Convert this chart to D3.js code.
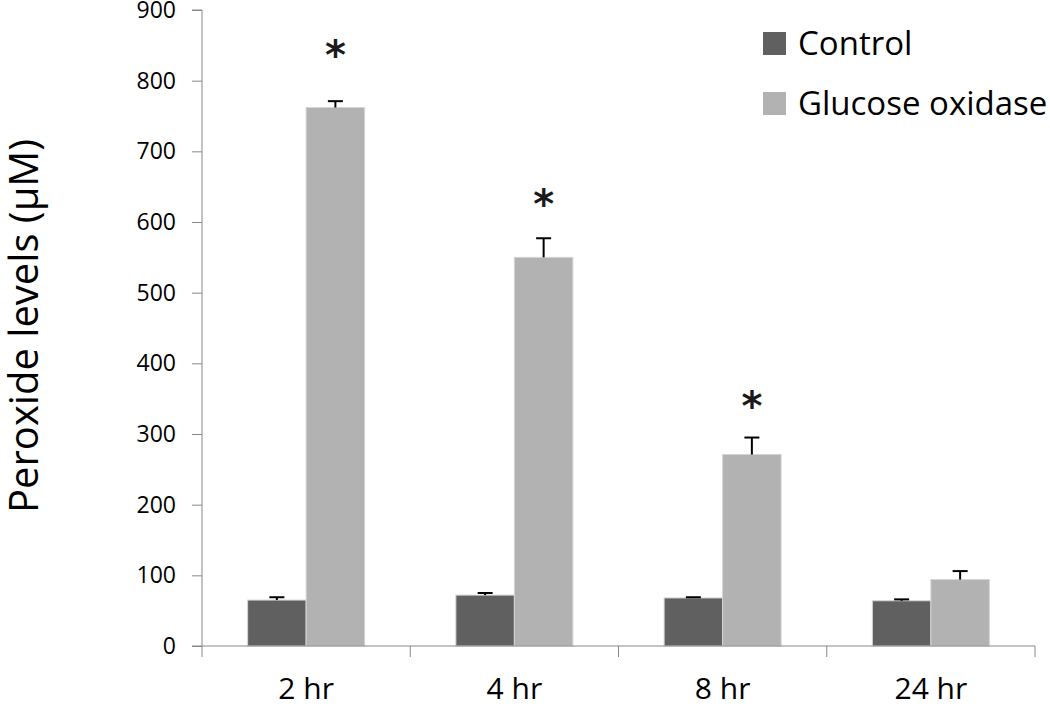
<!DOCTYPE html>
<html>
<head>
<meta charset="utf-8">
<script src="https://cdn.jsdelivr.net/npm/d3@7"></script>
<style>
  html, body { margin: 0; padding: 0; background: #fff; }
  svg { display: block; }
</style>
</head>
<body>
<svg id="chart" width="1050" height="707"></svg>
<script>
// ---- data ----
const categories = ["2 hr", "4 hr", "8 hr", "24 hr"];
const seriesNames = ["Control", "Glucose oxidase"];
const controlValues = [65, 72, 68, 64];
const controlErrors = [4, 3, 1, 2];
const glucoseValues = [762, 550, 271, 94];
const glucoseErrors = [9, 27, 24, 12];
const significance = ["*", "*", "*", ""];
const starLevels = [850, 639, 352, null];
const yTicks = [0, 100, 200, 300, 400, 500, 600, 700, 800, 900];
const yLabel = "Peroxide levels (\u00B5M)";

// ---- layout ----
const svg = d3.select("#chart");
const colors = { "Control": "#606060", "Glucose oxidase": "#b2b2b2" };
const axisColor = "#888888";
const plotLeft = 202, plotRight = 1035, plotTop = 10, plotBottom = 646;

const x0 = d3.scaleBand().domain(categories).range([plotLeft, plotRight]).padding(0);
const x1 = d3.scaleBand().domain(seriesNames).range([0, x0.bandwidth()]).paddingInner(0).paddingOuter(0.78);
const y = d3.scaleLinear().domain([0, 900]).range([plotBottom, plotTop]);

const rows = categories.map((c, i) => ({
  cat: c,
  bars: [
    { key: "Control", v: controlValues[i], e: controlErrors[i] },
    { key: "Glucose oxidase", v: glucoseValues[i], e: glucoseErrors[i] }
  ],
  star: significance[i],
  starV: starLevels[i]
}));

// bars
const g = svg.append("g");
const groups = g.selectAll("g.grp").data(rows).join("g")
  .attr("class", "grp")
  .attr("transform", d => `translate(${x0(d.cat)},0)`);

groups.selectAll("rect").data(d => d.bars).join("rect")
  .attr("x", d => x1(d.key))
  .attr("y", d => y(d.v))
  .attr("width", x1.bandwidth())
  .attr("height", d => y(0) - y(d.v))
  .attr("fill", d => colors[d.key])
  .attr("stroke", "#d4d4d4")
  .attr("stroke-width", 1);

// error bars (upper only)
const capW = 15;
groups.selectAll("g.err").data(d => d.bars).join("g")
  .attr("class", "err")
  .each(function(d) {
    const cx = x1(d.key) + x1.bandwidth() / 2;
    const sel = d3.select(this);
    sel.append("line")
      .attr("x1", cx).attr("x2", cx)
      .attr("y1", y(d.v)).attr("y2", y(d.v + d.e))
      .attr("stroke", "#000").attr("stroke-width", 2);
    sel.append("line")
      .attr("x1", cx - capW / 2).attr("x2", cx + capW / 2)
      .attr("y1", y(d.v + d.e)).attr("y2", y(d.v + d.e))
      .attr("stroke", "#000").attr("stroke-width", 2);
  });

// significance stars
const starSize = 40;
groups.filter(d => d.star).append("text")
  .attr("x", x1("Glucose oxidase") + x1.bandwidth() / 2)
  .attr("y", d => y(d.starV) + starSize * 0.58)
  .attr("text-anchor", "middle")
  .attr("font-family", "DejaVu Sans")
  .attr("font-weight", "bold")
  .attr("font-size", starSize)
  .attr("fill", "#1a1a1a")
  .text(d => d.star);

// y axis
const yAxis = d3.axisLeft(y).tickValues(yTicks).tickSize(10).tickPadding(16);
const ya = svg.append("g").attr("transform", `translate(${plotLeft},0)`).call(yAxis);
ya.select(".domain").attr("stroke", axisColor).attr("d", `M-10,${plotTop}H0V${plotBottom}H-10`);
ya.selectAll(".tick line").attr("stroke", axisColor);
ya.selectAll(".tick text")
  .attr("font-family", "Open Sans")
  .attr("font-size", 23)
  .attr("fill", "#000");

// x axis
const xa = svg.append("g").attr("transform", `translate(0,${plotBottom})`);
xa.append("line").attr("x1", plotLeft).attr("x2", plotRight).attr("y1", 0).attr("y2", 0).attr("stroke", axisColor);
const bounds = categories.map(c => x0(c)).concat([plotRight]);
xa.selectAll("line.tk").data(bounds).join("line")
  .attr("class", "tk")
  .attr("x1", d => d).attr("x2", d => d)
  .attr("y1", 0).attr("y2", 11)
  .attr("stroke", axisColor);
xa.selectAll("text").data(categories).join("text")
  .attr("x", d => x0(d) + x0.bandwidth() / 2)
  .attr("y", 53)
  .attr("text-anchor", "middle")
  .attr("font-family", "Open Sans")
  .attr("font-size", 30)
  .attr("fill", "#000")
  .text(d => d);

// y label
svg.append("text")
  .attr("transform", `translate(38,513) rotate(-90)`)
  .attr("text-anchor", "start")
  .attr("font-family", "Open Sans")
  .attr("font-size", 40)
  .attr("fill", "#000")
  .text(yLabel);

// legend
const legend = svg.append("g").attr("transform", "translate(763,32)");
const li = legend.selectAll("g").data(seriesNames).join("g")
  .attr("transform", (d, i) => `translate(0,${i * 60})`);
li.append("rect").attr("width", 23).attr("height", 23).attr("fill", d => colors[d]);
li.append("text")
  .attr("x", 35).attr("y", 23)
  .attr("font-family", "Open Sans")
  .attr("font-size", 33)
  .attr("fill", "#000")
  .text(d => d);
</script>
</body>
</html>
